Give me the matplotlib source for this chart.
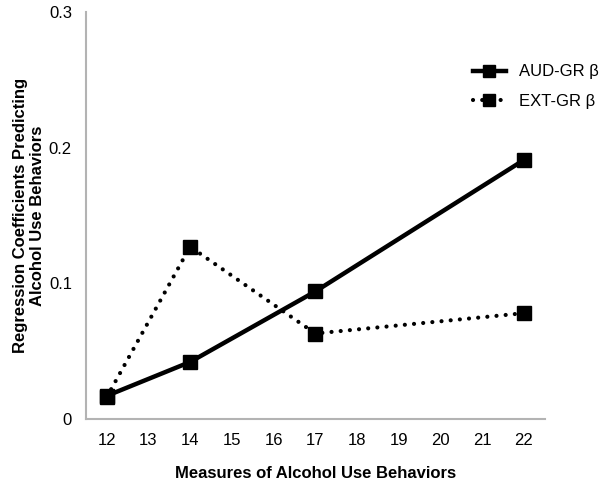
import matplotlib
matplotlib.use("Agg")
import matplotlib.pyplot as plt

import numpy as np

plt.rcParams["font.family"] = ["Liberation Sans", "DejaVu Sans"]

categories = ["12", "13", "14", "15", "16", "17", "18", "19", "20", "21", "22"]
measures = ["12", "14", "17", "22"]
aud_beta = [0.017, 0.042, 0.094, 0.191]
ext_beta = [0.016, 0.127, 0.063, 0.078]

x_all = np.arange(len(categories))
x = [categories.index(m) for m in measures]

fig = plt.figure(figsize=(6, 4.86), dpi=100)
ax = fig.add_axes([0.143, 0.138, 0.765, 0.837])

ax.plot(x, aud_beta, color="black", linewidth=3.2, marker="s", markersize=10,
        label="AUD-GR β", zorder=3)
ax.plot(x, ext_beta, color="black", linewidth=3, linestyle=(0, (0.01, 2.2)),
        dash_capstyle="round", marker="s", markersize=10,
        label="EXT-GR β", zorder=3)

ax.set_xlim(-0.5, len(categories) - 0.5)
ax.set_ylim(0, 0.3)
ax.set_xticks(x_all)
ax.set_xticklabels(categories)
ax.set_yticks([0, 0.1, 0.2, 0.3])
ax.set_yticklabels(["0", "0.1", "0.2", "0.3"])
ax.tick_params(length=0, labelsize=12, pad=10)

for side in ["top", "right"]:
    ax.spines[side].set_visible(False)
for side in ["left", "bottom"]:
    ax.spines[side].set_color("#b3b3b3")
    ax.spines[side].set_linewidth(1.5)

ax.set_xlabel("Measures of Alcohol Use Behaviors", fontsize=12, fontweight="bold", labelpad=13)
ax.set_ylabel("Regression Coefficients Predicting\nAlcohol Use Behaviors",
              fontsize=12, fontweight="bold", labelpad=3, linespacing=1.15)

ax.legend(loc="upper left", bbox_to_anchor=(0.828, 0.888), frameon=False,
          fontsize=12, handlelength=2.0, labelspacing=0.85, markerscale=0.9,
          borderaxespad=0)

fig.savefig("out.png", dpi=100)
plt.close(fig)
